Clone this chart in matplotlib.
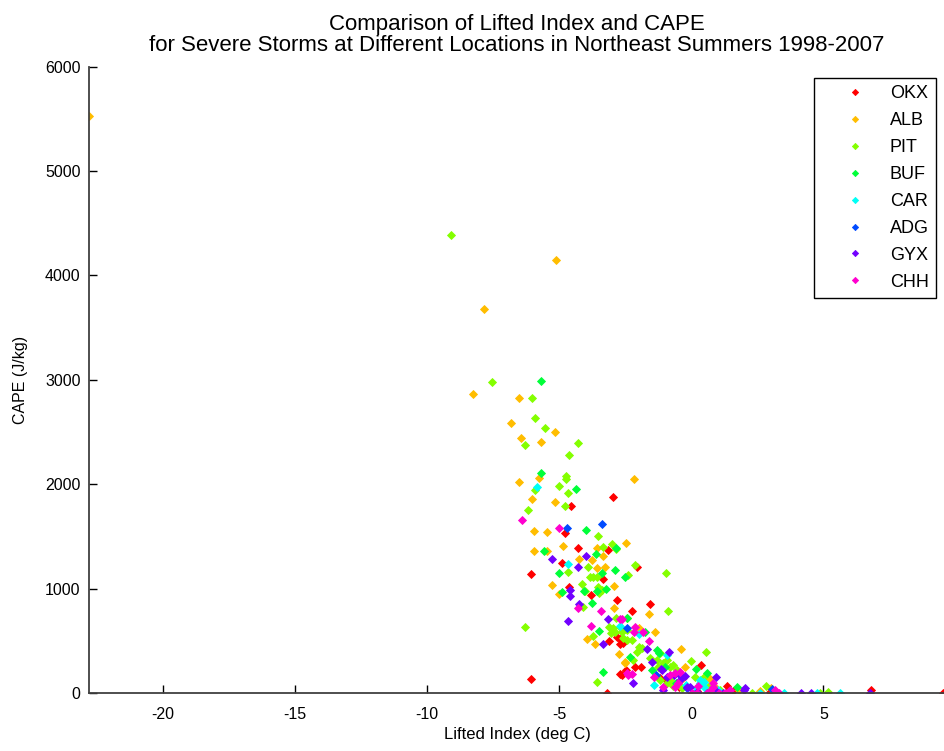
import numpy as np
import matplotlib
matplotlib.use("Agg")
import matplotlib.pyplot as plt

plt.rcParams['font.family'] = ['Liberation Sans', 'DejaVu Sans']
plt.rcParams['axes.unicode_minus'] = False

estacoes = ['OKX', 'ALB', 'PIT', 'BUF', 'CAR', 'ADG', 'GYX', 'CHH']

# Lifted index (deg C) e CAPE (J/kg) por estacao
okx_li = [-6.08, -6.08, -4.78, -4.89, -4.30, -3.17, -3.33, -4.62, -3.81, -2.80, -3.10, -2.71,
          -2.71, -2.83, -2.70, -3.18, -2.95, -4.57, -1.56, -2.25, -2.05, -2.60, -2.12, -1.89,
          -2.64, -2.47, 0.37, 1.34, 1.59, 6.80, 9.53, -0.45, 0.62, 1.05, 2.98, -0.95, 0.20, -1.20]
okx_cape = [1140, 131, 1530, 1248, 1386, 1370, 1092, 1018, 939, 890, 500, 520,
            470, 539, 180, 0, 1875, 1792, 853, 786, 1204, 480, 252, 252,
            172, 220, 266, 67, 22, 29, 0, 60, 30, 10, 10, 120, 15, 140]

alb_li = [-22.81, -5.13, -7.85, -8.28, -6.51, -6.83, -5.15, -6.46, -5.70, -5.75, -6.51, -2.17,
          -6.02, -5.15, -5.97, -5.45, -5.97, -5.48, -4.85, -2.47, -3.56, -5.26, -2.91, -5.01,
          -2.91, -3.96, -3.65, -2.74, -2.53, -1.61, -1.39, -2.00, -0.38, -0.25, -2.52, 0.63,
          -0.30, 0.71, -3.33, -3.77, -3.58, -3.27, -4.24, 1.80, 2.60, 3.00, 0.90, -0.50]
alb_cape = [5527, 4148, 3679, 2867, 2826, 2584, 2500, 2446, 2405, 2063, 2024, 2050,
            1858, 1827, 1357, 1363, 1555, 1539, 1411, 1440, 1386, 1035, 1025, 948,
            815, 517, 467, 373, 290, 757, 581, 620, 419, 246, 297, 155,
            140, 134, 1315, 1274, 1195, 1210, 1287, 30, 20, 50, 60, 90]

pit_li = [-9.10, -7.54, -6.02, -5.91, -5.54, -6.29, -4.30, -4.63, -4.73, -4.73, -5.92, -5.00,
          -4.68, -4.78, -6.17, -3.55, -2.99, -4.67, -6.29, -3.73, -3.56, -2.14, -0.96, -0.89,
          -2.42, 0.55, 0.00, -1.20, -3.33, -2.84, -2.39, -3.84, -3.71, -3.58, -4.14, -3.52,
          -3.39, -4.11, -2.85, -2.95, -2.70, -2.45, -2.20, -3.90, -4.03, -3.48, -3.05, -3.10,
          0.46, -0.81, -0.68, 2.29, 2.82, 5.19, 4.88, -2.00, -1.88, -2.07, -2.58, -2.45,
          -1.56, -1.31, -1.25, -1.06, -0.93, -0.81, -0.68, -0.55, -1.19, -0.93, -0.36, 0.14,
          0.64, 1.09, -2.89, -2.64, -2.26]
pit_cape = [4388, 2977, 2826, 2637, 2542, 2379, 2392, 2280, 2079, 2047, 1940, 1983,
            1913, 1792, 1753, 1507, 1430, 1155, 635, 549, 103, 1223, 1152, 786,
            716, 393, 309, 383, 1402, 1382, 1130, 1114, 1114, 1114, 1044, 1018,
            987, 821, 716, 620, 635, 604, 316, 1210, 980, 961, 572, 635,
            156, 125, 67, 0, 67, 12, 0, 438, 428, 396, 524, 508,
            332, 316, 252, 284, 316, 252, 268, 220, 125, 93, 45, 156,
            60, 29, 587, 587, 508]

buf_li = [-5.70, -5.70, -4.36, -3.99, -5.58, -5.00, -2.86, -4.90, -3.77, -3.48, -2.52, -1.75,
          -2.32, -1.29, 0.18, -1.48, -3.61, -3.37, -3.56, -3.23, -2.45, -2.89, -4.05, -3.33,
          -1.22, 1.72, 0.61, -0.60, 0.90, -1.00]
buf_cape = [2992, 2105, 1954, 1562, 1363, 1152, 1386, 970, 865, 594, 1113, 587,
            348, 412, 227, 220, 1329, 1147, 977, 993, 716, 1178, 980, 198,
            380, 55, 189, 100, 40, 250]

car_li = [-5.86, -4.66, -2.72, -2.00, -1.41, 0.33, -0.93, 0.33, 0.46, 2.60, 3.49, 4.75,
          5.61, 0.14, 0.46, 0.20, 1.00, -0.20]
car_cape = [1971, 1233, 640, 565, 77, 99, 363, 125, 102, 0, 0, 0,
            0, 3, 60, 45, 30, 80]

adg_li = [-4.72, -3.38, -2.42, -1.34, -0.36, 3.07, -0.17, 0.90]
adg_cape = [1578, 1616, 620, 172, 156, 35, 45, 20]

gyx_li = [-5.26, -4.30, -3.99, -4.60, -4.60, -4.25, -4.68, -3.17, -3.33, -2.20, -1.67, -0.84,
          -1.50, -1.14, -0.46, 0.94, -1.11, -0.93, -0.66, -0.43, -0.24, 2.00, -0.17, -0.05,
          -1.06, 2.03, 4.15, 4.52, 6.77, 0.02, 0.20, 0.58, 0.96, 1.21]
gyx_cape = [1284, 1210, 1315, 990, 930, 850, 690, 705, 467, 99, 419, 393,
            300, 230, 185, 150, 220, 156, 172, 125, 163, 29, 60, 60,
            29, 48, 0, 0, 0, 0, 10, 0, 10, 0]

chh_li = [-6.40, -5.01, -4.29, -3.43, -2.70, -3.81, -2.64, -1.59, -2.38, -0.80, -1.40, 0.80,
          0.70, -2.13, -1.82, -2.45, -2.26, -1.06, 0.24, 0.83, 1.47, 1.28, 0.02, 0.20,
          0.58, 1.03, 3.17, 3.30, -0.62, -0.43, -0.62, -0.49, -2.17]
chh_cape = [1657, 1578, 815, 790, 705, 642, 706, 501, 172, 175, 150, 100,
            20, 635, 587, 189, 182, 60, 67, 55, 30, 0, 0, 0,
            0, 0, 29, 0, 189, 204, 60, 93, 587]

dados_li = [okx_li, alb_li, pit_li, buf_li, car_li, adg_li, gyx_li, chh_li]
dados_cape = [okx_cape, alb_cape, pit_cape, buf_cape, car_cape, adg_cape, gyx_cape, chh_cape]

cores = plt.cm.hsv(np.arange(8) / 8.0)

fig = plt.figure(figsize=(9.45, 7.51), dpi=100)
ax = fig.add_axes([89 / 945, 58 / 751, 856 / 945, 626.3 / 751])

for nome, li, cape, cor in zip(estacoes, dados_li, dados_cape, cores):
    ax.plot(li, cape, linestyle='none', marker='D', markersize=4.2,
            markerfacecolor=cor, markeredgecolor=cor, markeredgewidth=0.6, label=nome)

ax.set_xlim(-22.8, 9.6)
ax.set_ylim(0, 6000)
ax.set_xticks([-20, -15, -10, -5, 0, 5])
ax.set_yticks(np.arange(0, 6001, 1000))
ax.tick_params(direction='in', length=6, labelsize=11.5, colors='black', width=1)
ax.tick_params(axis='x', pad=10)
ax.tick_params(axis='y', pad=6)
for lado in ['top', 'right']:
    ax.spines[lado].set_visible(False)
for lado in ['left', 'bottom']:
    ax.spines[lado].set_color('#404040')
    ax.spines[lado].set_linewidth(1.3)

ax.set_xlabel('Lifted Index (deg C)', fontsize=12, labelpad=4)
ax.set_ylabel('CAPE (J/kg)', fontsize=11.5, labelpad=12)
ax.set_title('Comparison of Lifted Index and CAPE\n'
             'for Severe Storms at Different Locations in Northeast Summers 1998-2007',
             fontsize=16, pad=11, linespacing=1.05)

leg = ax.legend(loc='upper right', bbox_to_anchor=(0.9895, 0.982), fontsize=13,
                handlelength=3.75, handletextpad=0.05, labelspacing=0.55,
                borderpad=0.4, borderaxespad=0, markerscale=0.75,
                fancybox=False, framealpha=1, edgecolor='black')
leg.get_frame().set_linewidth(1.0)

fig.savefig('out.png', dpi=100)
